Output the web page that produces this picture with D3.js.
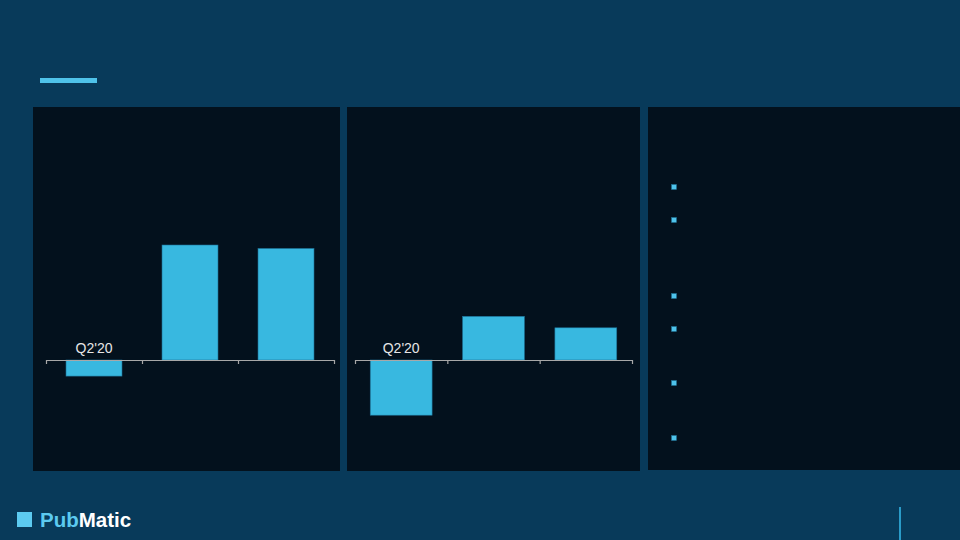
<!DOCTYPE html>
<html><head><meta charset="utf-8">
<script src="https://cdn.jsdelivr.net/npm/d3@7"></script>
<style>html,body{margin:0;padding:0;background:#083a5a;}svg{display:block;}</style>
</head><body>
<script>
// Data
const categories = ["Q2'20", "", ""];
const leftValues = [-14, 100, 97];
const rightValues = [-48, 38, 28];
const bulletRows = [187, 220, 296, 329, 383, 438]; // bullet positions (layout)

const W = 960, H = 540;
const svg = d3.select("body").append("svg").attr("width", W).attr("height", H);
svg.append("rect").attr("width", W).attr("height", H).attr("fill", "#083a5a");

// title accent bar
svg.append("rect").attr("x", 40).attr("y", 78).attr("width", 57).attr("height", 5).attr("fill", "#4fc3ea");

// panels
const panels = [[33, 107, 307, 364], [347, 107, 293, 364], [648, 107, 312, 363]];
svg.selectAll(".panel").data(panels).join("rect")
  .attr("x", d => d[0]).attr("y", d => d[1]).attr("width", d => d[2]).attr("height", d => d[3])
  .attr("fill", "#03111d");

const y = d3.scaleLinear().domain([-100, 100]).range([475, 245]);

function drawChart(values, x0, x1, pad) {
  const g = svg.append("g");
  const xb = d3.scaleBand().domain(d3.range(values.length)).range([x0, x1])
    .paddingInner(pad).paddingOuter(pad / 2);
  g.selectAll("rect.bar").data(values).join("rect")
    .attr("x", (d, i) => xb(i)).attr("width", xb.bandwidth())
    .attr("y", d => y(Math.max(0, d))).attr("height", d => Math.abs(y(d) - y(0)))
    .attr("fill", "#38b8e0").attr("stroke", "#1d6f93").attr("stroke-width", 0.6);
  const xl = d3.scaleLinear().domain([0, values.length]).range([x0, x1]);
  const axis = d3.axisBottom(xl).tickValues(d3.range(values.length + 1)).tickFormat("").tickSize(4).tickSizeOuter(0);
  const ag = g.append("g").attr("transform", `translate(0,${y(0)})`).call(axis);
  ag.select(".domain").attr("stroke", "#a8a8a8").attr("stroke-width", 1.2);
  ag.selectAll(".tick line").attr("stroke", "#a8a8a8").attr("stroke-width", 1.2);
  g.selectAll("text.cat").data(categories).join("text")
    .attr("x", (d, i) => xb(i) + xb.bandwidth() / 2).attr("y", y(0) - 7)
    .attr("text-anchor", "middle").attr("fill", "#e6e6e6")
    .attr("font-family", "Liberation Sans, Arial, sans-serif").attr("font-size", 14)
    .text(d => d);
}
drawChart(leftValues, 46, 334, 0.4167);
drawChart(rightValues, 355, 632, 0.33);

// bullets in right panel
svg.selectAll(".bullet").data(bulletRows).join("rect")
  .attr("x", 671.5).attr("y", d => d - 2.5).attr("width", 5).attr("height", 5)
  .attr("fill", "#4fc3ea").attr("stroke", "#1d6f93").attr("stroke-width", 0.5);

// footer logo
svg.append("rect").attr("x", 17).attr("y", 512).attr("width", 15).attr("height", 15).attr("fill", "#5ccaf0");
const logo = svg.append("text").attr("x", 40).attr("y", 527)
  .attr("font-family", "Liberation Sans, Arial, sans-serif").attr("font-size", 20.5).attr("font-weight", "bold");
logo.append("tspan").attr("fill", "#5ccaf0").text("Pub");
logo.append("tspan").attr("fill", "#ffffff").text("Matic");

// footer divider
svg.append("rect").attr("x", 899).attr("y", 507).attr("width", 2).attr("height", 33).attr("fill", "#2a9bc8");
</script>
</body></html>
